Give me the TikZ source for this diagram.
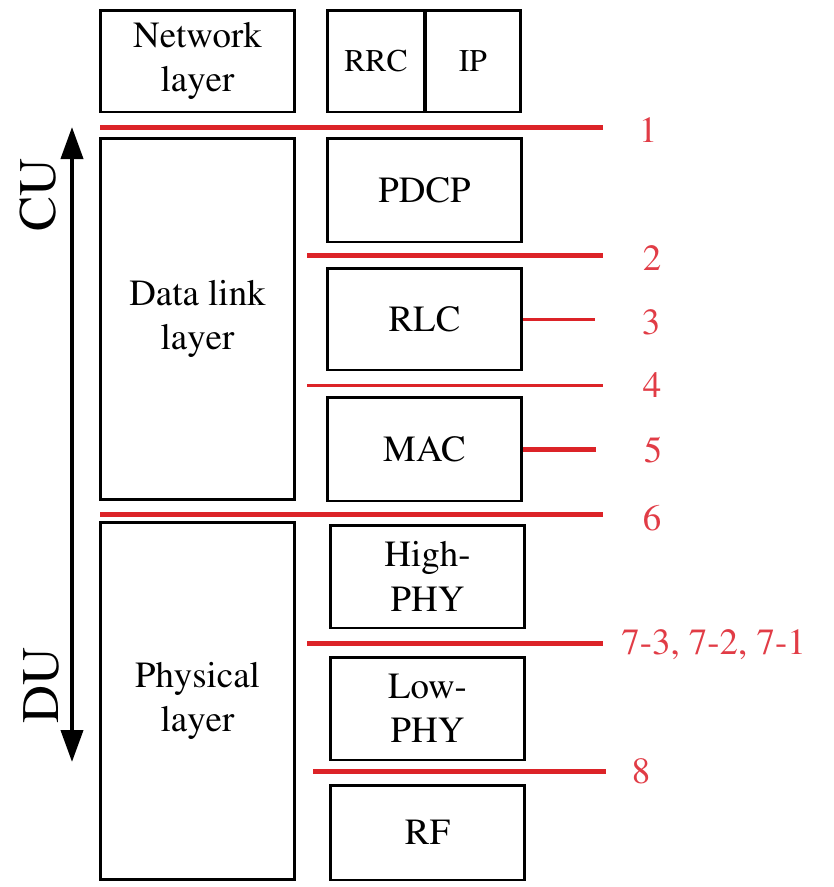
\documentclass[tikz,border=0pt]{standalone}
\usepackage[T1]{fontenc}
\usepackage{mathptmx}
\usetikzlibrary{arrows.meta}
\definecolor{splitred}{RGB}{220,35,40}
\definecolor{labelred}{RGB}{225,60,70}

\begin{document}
\begin{tikzpicture}[x=0.02cm,y=-0.02cm,
  layerbox/.style={draw,line width=1.7pt,inner sep=0pt,align=center,font=\fontsize{21}{25.5}\selectfont},
  splitline/.style={splitred,line width=2.85pt},
  thinsplit/.style={splitred,line width=1.7pt},
  splitlabel/.style={labelred,font=\fontsize{21}{25}\selectfont},
  sidelabel/.style={rotate=90,font=\fontsize{30}{34}\selectfont}]
\useasboundingbox (0,0) rectangle (833,887);
% ---------- left column: OSI layers ----------
\node[layerbox,minimum width=3.9cm,minimum height=2.04cm] (net) at (197.5,61) {Network\\layer};
\node[layerbox,minimum width=3.9cm,minimum height=7.24cm] (dll) at (197.5,319) {Data link\\layer};
\node[layerbox,minimum width=3.9cm,minimum height=7.16cm] (phys) at (197.5,701) {Physical\\layer};
% ---------- right column: protocol stack ----------
\node[layerbox,minimum width=1.96cm,minimum height=2.04cm,font=\fontsize{18}{22}\selectfont] (rrc) at (376,61) {RRC};
\node[layerbox,minimum width=1.92cm,minimum height=2.04cm,font=\fontsize{18}{22}\selectfont] (ip) at (473,61) {IP};
\node[layerbox,minimum width=3.9cm,minimum height=2.08cm] (pdcp) at (424.5,190) {PDCP};
\node[layerbox,minimum width=3.9cm,minimum height=2.04cm] (rlc) at (424.5,319) {RLC};
\node[layerbox,minimum width=3.9cm,minimum height=2.08cm] (mac) at (424.5,449) {MAC};
\node[layerbox,minimum width=3.9cm,minimum height=2.06cm] (hiphy) at (427.5,576.5) {High-\\PHY};
\node[layerbox,minimum width=3.9cm,minimum height=2.06cm] (lophy) at (427.5,708.5) {Low-\\PHY};
\node[layerbox,minimum width=3.9cm,minimum height=1.9cm] (rf) at (427.5,832.5) {RF};
% ---------- split options ----------
\coordinate (s1a) at (100,127);  \coordinate (s1b) at (603,127);
\coordinate (s2a) at (307,255);  \coordinate (s2b) at (603,255);
\coordinate (s3b) at (595,319);
\coordinate (s4a) at (307,385);  \coordinate (s4b) at (603,385);
\coordinate (s5b) at (596,449);
\coordinate (s6a) at (100,514);  \coordinate (s6b) at (603,514);
\coordinate (s7a) at (307,643);  \coordinate (s7b) at (603,643);
\coordinate (s8a) at (313,771);  \coordinate (s8b) at (606,771);
\draw[splitline] (s1a) -- (s1b);
\draw[splitline] (s2a) -- (s2b);
\draw[thinsplit] (rlc.east) -- (s3b);
\draw[thinsplit] (s4a) -- (s4b);
\draw[splitline] (mac.east) -- (s5b);
\draw[splitline] (s6a) -- (s6b);
\draw[splitline] (s7a) -- (s7b);
\draw[splitline] (s8a) -- (s8b);
\node[splitlabel] (opt1) at (648,130) {1};
\node[splitlabel] (opt2) at (652,258) {2};
\node[splitlabel] (opt3) at (651,322) {3};
\node[splitlabel] (opt4) at (652,385) {4};
\node[splitlabel] (opt5) at (653,450) {5};
\node[splitlabel] (opt6) at (652,518) {6};
\node[splitlabel,anchor=west,inner sep=0pt] (opt7) at (621,645) {7-3, 7-2, 7-1};
\node[splitlabel] (opt8) at (641,771) {8};
% ---------- CU / DU arrow ----------
\coordinate (cutop) at (72,127);
\coordinate (dubot) at (72,762);
\draw[line width=2.3pt,{Triangle[width=0.44cm,length=0.64cm]}-{Triangle[width=0.44cm,length=0.64cm]}] (cutop) -- (dubot);
\node[sidelabel] (cu) at (38,195) {CU};
\node[sidelabel] (du) at (42,685) {DU};
\end{tikzpicture}
\end{document}
